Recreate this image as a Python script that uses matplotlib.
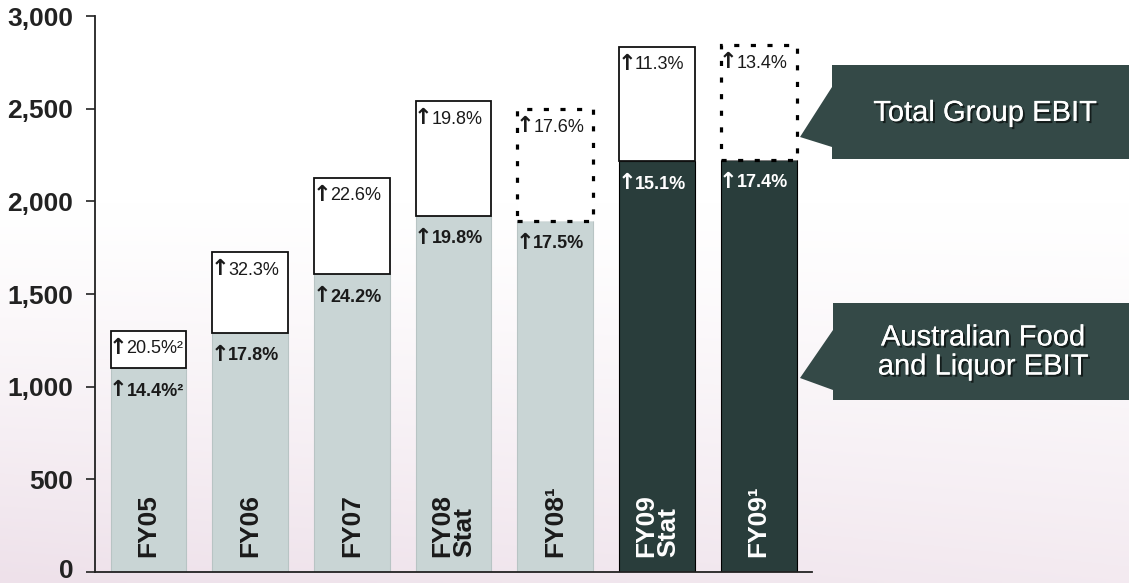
import numpy as np
import matplotlib.pyplot as plt
import matplotlib.transforms as mtransforms
from matplotlib.patches import Polygon
import matplotlib.patheffects as pe

plt.rcParams['font.family'] = ['Liberation Sans', 'DejaVu Sans']

categories = ['FY05', 'FY06', 'FY07', 'FY08\nStat', 'FY08¹', 'FY09\nStat', 'FY09¹']
afl_ebit = [1100, 1290, 1606, 1922, 1895, 2215, 2225]
group_ebit = [1303, 1726, 2128, 2540, 2497, 2835, 2842]
afl_growth = ['14.4%²', '17.8%', '24.2%', '19.8%', '17.5%', '15.1%', '17.4%']
group_growth = ['20.5%²', '32.3%', '22.6%', '19.8%', '17.6%', '11.3%', '13.4%']
pro_forma = [False, False, False, False, True, False, True]
dark_year = [False, False, False, False, False, True, True]

LIGHT = '#c9d5d5'
DARK = '#293d3b'
CALLOUT = '#344947'
W, H = 1129, 583

fig = plt.figure(figsize=(W / 100, H / 100), dpi=100)

# soft pinkish background, white at the top
bg = fig.add_axes([0, 0, 1, 1], zorder=-10)
yy, xx = np.mgrid[0:1:200j, 0:1:400j]
w = np.clip((yy - 0.35) / 0.65, 0, 1) ** 1.2 * (0.7 + 0.3 * (1 - xx))
pink = np.array([238, 225, 234]) / 255
img = 1 - w[..., None] * (1 - pink)
bg.imshow(img, aspect='auto', extent=[0, 1, 0, 1], origin='upper')
bg.axis('off')

ax = fig.add_axes([95 / W, 1 - 572 / H, (812 - 95) / W, (572 - 16) / H])
ax.set_facecolor('none')

x = np.arange(len(categories))
bw = 0.745
afl = np.array(afl_ebit)
grp = np.array(group_ebit)


def growth_label(xv, yv, txt, dy, color, weight):
    # arrow drawn separately so it can be bigger and tight to the number
    ax.annotate('↑', (xv, yv), xytext=(-21, dy + 1), textcoords='offset pixels',
                ha='right', va='center', fontsize=16, fontweight='bold',
                family='DejaVu Sans', color=color, zorder=5)
    ax.annotate(txt, (xv, yv), xytext=(-22, dy), textcoords='offset pixels',
                ha='left', va='center', fontsize=13, fontweight=weight,
                color=color, zorder=5)


for i in range(len(x)):
    fc = DARK if dark_year[i] else LIGHT
    ec = 'black' if dark_year[i] else '#b8c4c4'
    ax.bar(x[i], afl[i], width=bw, color=fc, edgecolor=ec, linewidth=0.8, zorder=2)
    if pro_forma[i]:
        b = ax.bar(x[i], grp[i] - afl[i], bottom=afl[i], width=bw, facecolor='white',
                   edgecolor='black', linewidth=2.3, linestyle=(0, (1.6, 3.6)), zorder=3)
        b[0].set_capstyle('butt')
    else:
        ax.bar(x[i], grp[i] - afl[i], bottom=afl[i], width=bw, facecolor='white',
               edgecolor='#111111', linewidth=1.3, zorder=3)

    tc = 'white' if dark_year[i] else '#1a1a1a'
    growth_label(x[i], grp[i], group_growth[i], -18, '#1a1a1a', 'normal')
    growth_label(x[i], afl[i], afl_growth[i], -23, tc, 'bold')
    ax.annotate(categories[i], (x[i], 0), xytext=(0, 15), textcoords='offset pixels',
                rotation=90, ha='center', va='bottom', multialignment='left',
                fontsize=19, fontweight='bold', color=tc, linespacing=0.9, zorder=5)

ax.set_xlim(-0.526, 6.524)
ax.set_ylim(0, 3000)
ax.set_yticks([0, 500, 1000, 1500, 2000, 2500, 3000])
ax.set_yticklabels(['0', '500', '1,000', '1,500', '2,000', '2,500', '3,000'])
ax.set_xticks([])
for s in ['top', 'right']:
    ax.spines[s].set_visible(False)
for s in ['left', 'bottom']:
    ax.spines[s].set_color('#222222')
    ax.spines[s].set_linewidth(1.3)
ax.tick_params(axis='y', length=6.5, width=1.2, color='#222222', pad=9,
               labelsize=19, labelcolor='#222222')
for lab in ax.get_yticklabels():
    lab.set_fontweight('bold')
# nudge the "0" up a little so it stays inside the image
lab0 = ax.get_yticklabels()[0]
lab0.set_transform(lab0.get_transform() + mtransforms.ScaledTranslation(0, 2.5 / 72, fig.dpi_scale_trans))


def px(pts):
    return [(a / W, 1 - b / H) for a, b in pts]


shadow = [pe.withSimplePatchShadow(offset=(1.5, -1.5), shadow_rgbFace='black', alpha=0.6),
          pe.Normal()]

box1 = [(832, 65), (1129, 65), (1129, 159), (832, 159), (832, 147), (800, 137), (832, 87)]
box2 = [(833, 303), (1129, 303), (1129, 400), (833, 400), (833, 390), (800, 378), (833, 330)]
fig.add_artist(Polygon(px(box1), closed=True, transform=fig.transFigure,
                       facecolor=CALLOUT, edgecolor='none'))
fig.add_artist(Polygon(px(box2), closed=True, transform=fig.transFigure,
                       facecolor=CALLOUT, edgecolor='none'))
fig.text(985 / W, 1 - 113 / H, 'Total Group EBIT', ha='center', va='center',
         fontsize=21, color='white', path_effects=shadow)
fig.text(983 / W, 1 - 352 / H, 'Australian Food\nand Liquor EBIT', ha='center', va='center',
         fontsize=21, color='white', linespacing=1.05, path_effects=shadow)

fig.savefig('out.png', dpi=100)
